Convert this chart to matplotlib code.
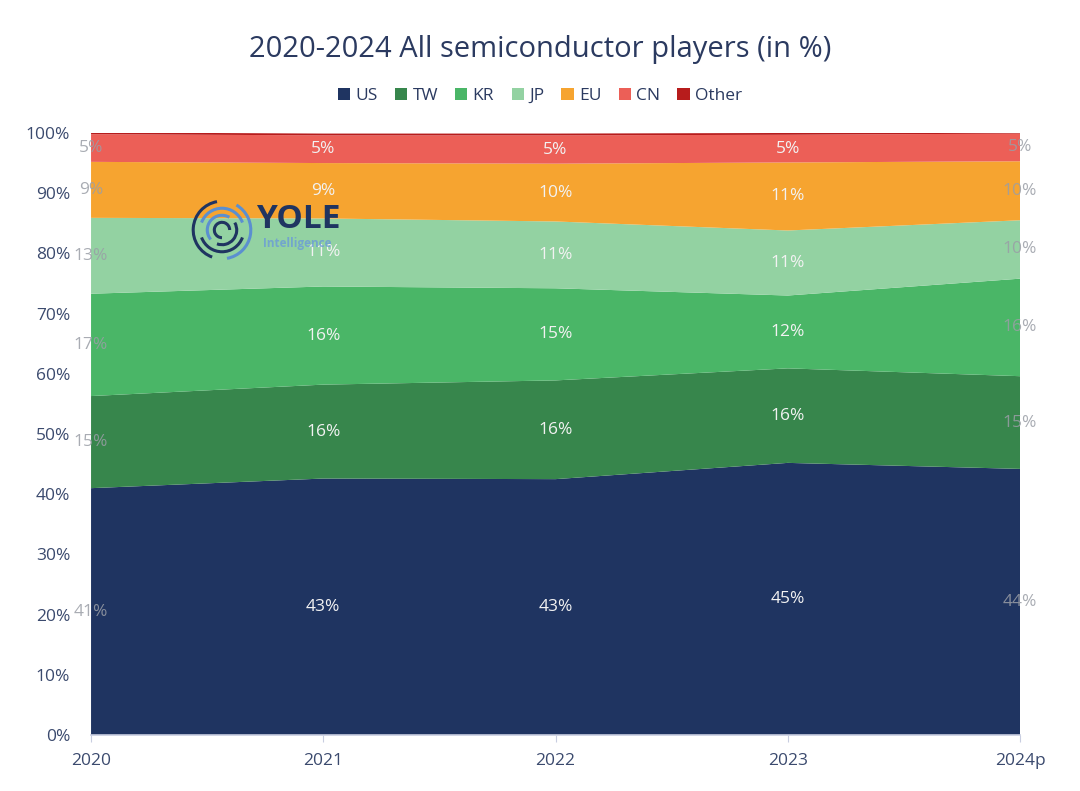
import numpy as np
import matplotlib.pyplot as plt
from matplotlib.patches import Arc

plt.rcParams['font.family'] = ['Open Sans', 'DejaVu Sans']

years = ['2020', '2021', '2022', '2023', '2024p']
regions = ['US', 'TW', 'KR', 'JP', 'EU', 'CN', 'Other']
us = [41.0, 42.6, 42.5, 45.2, 44.2]
tw = [15.3, 15.6, 16.4, 15.7, 15.4]
kr = [17.0, 16.3, 15.3, 12.1, 16.2]
jp = [12.6, 11.3, 11.1, 10.8, 9.7]
eu = [9.3, 9.2, 9.6, 11.3, 9.8]
cn = [4.6, 4.6, 4.7, 4.6, 4.6]
other = [0.3, 0.3, 0.3, 0.3, 0.3]
colors = ['#1f3461', '#37864c', '#4ab667', '#93d2a2', '#f6a430', '#ec5f57', '#b71c1c']

series = [us, tw, kr, jp, eu, cn, other]
x = np.arange(len(years))
navy = '#2b3a60'

fig = plt.figure(figsize=(10.8, 7.91), dpi=100)
ax = fig.add_axes([0.0843, 0.0708, 0.8602, 0.7611])

ax.stackplot(x, series, colors=colors, labels=regions, linewidth=0)
ax.set_xlim(0, len(years) - 1)
ax.set_ylim(0, 100)

# value labels, skip the thin "Other" band
base = np.zeros(len(years))
for vals in series[:-1]:
    vals = np.array(vals)
    mid = base + vals / 2
    for i in range(len(years)):
        edge = i == 0 or i == len(years) - 1
        ax.text(x[i], mid[i], f'{int(vals[i] + 0.5)}%', ha='center', va='center',
                fontsize=12.5, color='#9a9ea6' if edge else '#f2f2f2',
                alpha=0.85 if edge else 1, clip_on=False, zorder=5)
    base += vals

ax.set_yticks(np.arange(0, 101, 10))
ax.set_yticklabels([f'{v}%' for v in range(0, 101, 10)])
ax.set_xticks(x)
ax.set_xticklabels(years)
ax.tick_params(axis='y', length=0, labelsize=12.5, labelcolor='#3b4a6e', pad=15)
ax.tick_params(axis='x', length=5, color='#c8cde0', labelsize=12.5, labelcolor='#3b4a6e', pad=8)
for s in ['top', 'right', 'left']:
    ax.spines[s].set_visible(False)
ax.spines['bottom'].set_color('#c8cde0')
ax.spines['bottom'].set_linewidth(1.2)

fig.text(0.5, 0.938, '2020-2024 All semiconductor players (in %)', ha='center', va='center',
         fontsize=21, color=navy)
fig.legend(loc='center', bbox_to_anchor=(0.5, 0.879), ncol=7, frameon=False,
           handlelength=0.7, handleheight=0.7, handletextpad=0.3, columnspacing=1.0,
           labelcolor=navy, prop={'size': 12.5})

# watermark logo
lax = fig.add_axes([190 / 1080, 1 - 262 / 791, 64 / 1080, 64 / 791])
lax.set_xlim(-1, 1)
lax.set_ylim(-1, 1)
lax.set_aspect('equal')
lax.axis('off')
for r, th1, th2, c in [(0.9, 100, 250, '#1f3461'), (0.9, 280, 60, '#5b8fd0'),
                      (0.68, 200, 340, '#1f3461'), (0.68, 20, 160, '#5b8fd0'),
                      (0.46, 60, 220, '#5b8fd0'), (0.46, 250, 30, '#1f3461'),
                      (0.24, 0, 270, '#1f3461')]:
    lax.add_patch(Arc((0, 0), 2 * r, 2 * r, theta1=th1, theta2=th2, color=c, lw=2.2))
fig.text(256 / 1080, 1 - 220 / 791, 'YOLE', fontsize=24, fontweight='bold', color='#1f3461',
         va='center', ha='left')
fig.text(263 / 1080, 1 - 243 / 791, 'Intelligence', fontsize=8.5, fontweight='bold', color='#6a9ad8',
         va='center', ha='left', alpha=0.8)

fig.savefig('out.png', dpi=100)
